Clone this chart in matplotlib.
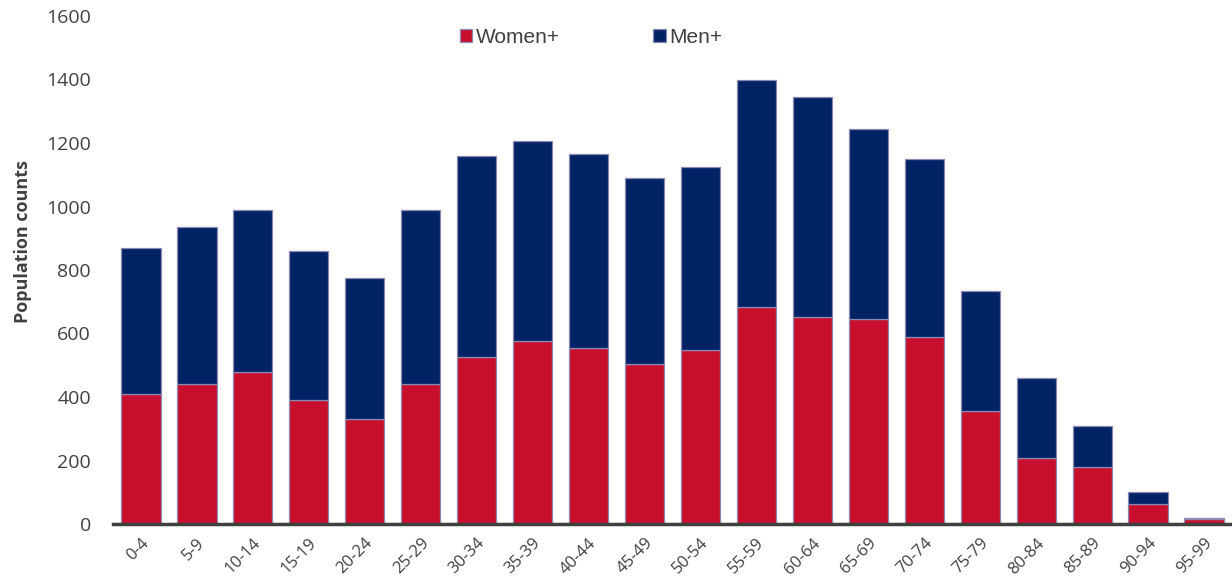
import matplotlib.pyplot as plt
import numpy as np

ages = ['0-4', '5-9', '10-14', '15-19', '20-24', '25-29', '30-34', '35-39',
        '40-44', '45-49', '50-54', '55-59', '60-64', '65-69', '70-74',
        '75-79', '80-84', '85-89', '90-94', '95-99']
women = [410, 440, 478, 390, 330, 440, 525, 577, 553, 505, 548, 682, 652,
         647, 590, 355, 207, 181, 63, 17]
total = [870, 935, 990, 860, 775, 990, 1160, 1205, 1165, 1090, 1125, 1400,
         1345, 1245, 1150, 735, 460, 310, 100, 20]
men = [t - w for t, w in zip(total, women)]

red = '#C8102E'
navy = '#002366'
edge = '#8C88B4'

fig = plt.figure(figsize=(12.32, 5.84), dpi=100)
ax = fig.add_axes([113 / 1232, 60 / 584, 1119 / 1232, 508 / 584])

x = np.arange(len(ages))
ax.bar(x, women, width=0.7, color=red, edgecolor=edge, linewidth=0.9, label='Women+')
ax.bar(x, men, width=0.7, bottom=women, color=navy, edgecolor=edge, linewidth=0.9, label='Men+')

ax.set_xlim(-0.5, len(ages) - 0.5)
ax.set_ylim(0, 1600)
ax.set_yticks(range(0, 1601, 200))
ax.set_xticks(x)
ax.set_xticklabels(ages, rotation=45, ha='right', rotation_mode='anchor',
                   fontsize=12, color='#404040', family='Open Sans')
for lab in ax.get_yticklabels():
    lab.set_fontsize(14)
    lab.set_color('#404040')
    lab.set_family('Open Sans')

for s in ['top', 'right', 'left']:
    ax.spines[s].set_visible(False)
ax.spines['bottom'].set_linewidth(2.5)
ax.spines['bottom'].set_color('#404040')
ax.tick_params(axis='x', length=0, pad=8)
ax.tick_params(axis='y', length=0, pad=16)

ax.set_ylabel('Population counts', fontsize=13, fontweight='bold',
              family='Open Sans', color='#404040', labelpad=10, y=0.555)

ax.legend(loc='upper center', bbox_to_anchor=(0.427, 1.013), ncol=2, frameon=False,
          handlelength=0.6, handleheight=0.6, handletextpad=0.15, columnspacing=4.5,
          prop={'family': 'Liberation Sans', 'size': 15}, labelcolor='#404040')

fig.savefig('out.png', dpi=100)
